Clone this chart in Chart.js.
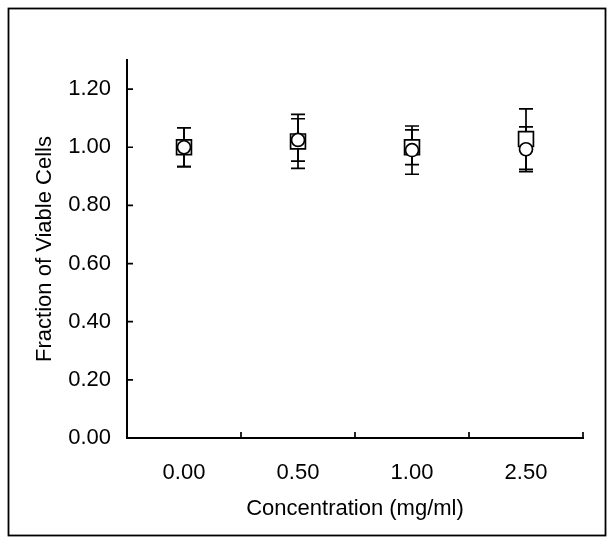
<!DOCTYPE html>
<html>
<head>
<meta charset="utf-8">
<script src="https://cdn.jsdelivr.net/npm/chart.js@4/dist/chart.umd.min.js"></script>
<style>
  html, body { margin: 0; padding: 0; background: #fff; }
  canvas { display: block; }
</style>
</head>
<body>
<canvas id="c" width="615" height="545"></canvas>
<script>
// ---- data ----
const categories = ['0.00', '0.50', '1.00', '2.50'];
const circleMeans = [1.00, 1.025, 0.99, 0.993];
const circleErrors = [0.067, 0.073, 0.083, 0.077];
const squareMeans = [1.00, 1.02, 1.00, 1.028];
const squareErrors = [0.067, 0.093, 0.06, 0.104];
const yTickValues = [0, 0.2, 0.4, 0.6, 0.8, 1.0, 1.2];
const xTitle = 'Concentration (mg/ml)';
const yTitle = 'Fraction of Viable Cells';

const FONT = '"Liberation Sans", Arial, sans-serif';
const FSIZE = 22;

const errorBarPlugin = {
  id: 'errorBars',
  beforeDatasetsDraw(chart) {
    const ctx = chart.ctx;
    const xs = chart.scales.x, ys = chart.scales.y;
    ctx.save();
    ctx.strokeStyle = '#000';
    ctx.lineWidth = 1.7;
    chart.data.datasets.forEach(ds => {
      const errs = ds.errors;
      ds.data.forEach((v, i) => {
        const x = xs.getPixelForValue(i);
        const yHi = ys.getPixelForValue(v + errs[i]);
        const yLo = ys.getPixelForValue(v - errs[i]);
        ctx.beginPath();
        ctx.moveTo(x, yHi); ctx.lineTo(x, yLo);
        ctx.moveTo(x - 7, yHi); ctx.lineTo(x + 7, yHi);
        ctx.moveTo(x - 7, yLo); ctx.lineTo(x + 7, yLo);
        ctx.stroke();
      });
    });
    ctx.restore();
  }
};

const frameAndTicksPlugin = {
  id: 'frameTicks',
  afterDraw(chart) {
    const ctx = chart.ctx;
    const xs = chart.scales.x, ys = chart.scales.y;
    const area = chart.chartArea;
    ctx.save();
    ctx.strokeStyle = '#000';
    // outer frame
    ctx.lineWidth = 1.8;
    ctx.strokeRect(8.5, 8.5, 597, 527);
    // inward y ticks
    ctx.lineWidth = 1.7;
    ctx.beginPath();
    ys.ticks.forEach(t => {
      const y = ys.getPixelForValue(t.value);
      ctx.moveTo(area.left, y); ctx.lineTo(area.left + 6, y);
    });
    // inward x ticks at category boundaries
    for (let i = 0; i < categories.length; i++) {
      const x = xs.getPixelForValue(i + 0.5);
      ctx.moveTo(x, area.bottom); ctx.lineTo(x, area.bottom - 6);
    }
    ctx.stroke();
    ctx.restore();
  }
};

new Chart(document.getElementById('c'), {
  type: 'line',
  data: {
    labels: categories,
    datasets: [
      {
        label: 'circles',
        data: circleMeans,
        errors: circleErrors,
        showLine: false,
        pointStyle: 'circle',
        pointRadius: 6.5,
        pointBorderWidth: 1.7,
        pointBorderColor: '#000',
        pointBackgroundColor: '#fff'
      },
      {
        label: 'squares',
        data: squareMeans,
        errors: squareErrors,
        showLine: false,
        pointStyle: 'rect',
        pointRadius: 10.5,
        pointBorderWidth: 1.7,
        pointBorderColor: '#000',
        pointBackgroundColor: '#fff'
      }
    ]
  },
  options: {
    responsive: false,
    animation: false,
    events: [],
    devicePixelRatio: 1,
    layout: { padding: { left: 10, right: 32, top: 60, bottom: 10 } },
    plugins: { legend: { display: false }, tooltip: { enabled: false } },
    scales: {
      x: {
        type: 'category',
        offset: true,
        grid: { display: false, drawTicks: false, offset: true },
        border: { display: true, color: '#000', width: 2 },
        ticks: { color: '#000', font: { family: FONT, size: FSIZE }, padding: 22, maxRotation: 0 },
        title: { display: true, text: xTitle, color: '#000', font: { family: FONT, size: FSIZE }, padding: { top: 0, bottom: 13 } },
        afterFit(scale) { scale.height = 97; }
      },
      y: {
        type: 'linear',
        min: 0,
        max: 1.3,
        grid: { display: false, drawTicks: false },
        border: { display: true, color: '#000', width: 2 },
        afterBuildTicks(scale) { scale.ticks = yTickValues.map(v => ({ value: v })); },
        ticks: {
          color: '#000', font: { family: FONT, size: FSIZE }, padding: 16,
          callback: v => Number(v).toFixed(2)
        },
        title: { display: true, text: yTitle, color: '#000', font: { family: FONT, size: FSIZE }, padding: { top: 22, bottom: 0 } },
        afterFit(scale) { scale.width = 117; }
      }
    }
  },
  plugins: [errorBarPlugin, frameAndTicksPlugin]
});
</script>
</body>
</html>
